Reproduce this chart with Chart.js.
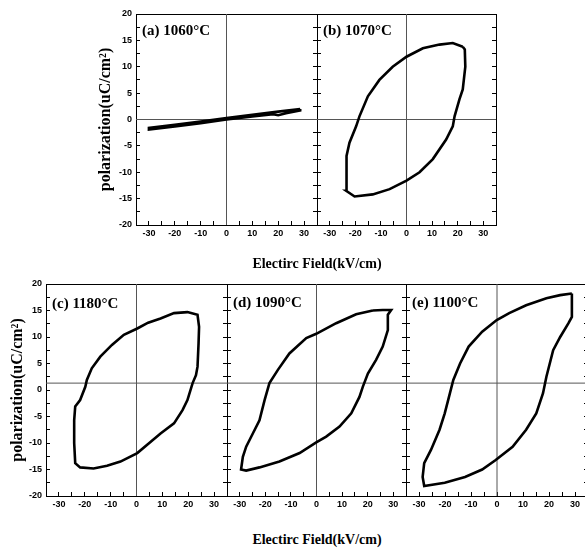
<!DOCTYPE html>
<html>
<head>
<meta charset="utf-8">
<script src="https://cdn.jsdelivr.net/npm/chart.js@4.4.1/dist/chart.umd.min.js"></script>
<style>
  body { margin: 0; background: #fff; width: 585px; height: 548px; position: relative; overflow: hidden; }
  canvas { position: absolute; }
  .xtitle { position: absolute; left: 0; width: 634px; text-align: center; font: bold 14px 'Liberation Serif', serif; color: #000; }
</style>
</head>
<body>
<canvas id="pa"></canvas>
<canvas id="pb"></canvas>
<canvas id="pc"></canvas>
<canvas id="pd"></canvas>
<canvas id="pe"></canvas>
<div class="xtitle" style="top:256px">Electirc Field(kV/cm)</div>
<div class="xtitle" style="top:532px">Electirc Field(kV/cm)</div>
<script>
// tick labels
const xTickLabels = [-30, -20, -10, 0, 10, 20, 30];
const yTickLabels = [-20, -15, -10, -5, 0, 5, 10, 15, 20];

// (a) 1060°C - almost linear, thin loop
const fieldA = [28.5, 20, 10, 0, -10, -20, -30, -30, -20, -10, 0, 10, 18, 20, 23, 28.5, 28.5];
const polA   = [2.0, 1.5, 0.9, 0.3, -0.4, -1.0, -1.6, -1.9, -1.3, -0.7, 0.0, 0.6, 1.0, 0.8, 1.2, 1.7, 2.0];

// (b) 1070°C
const fieldB = [22.0, 22.8, 23.0, 22.0, 20.7, 18.8, 18.1, 15.5, 10.3, 5.1, 0, -6.6, -13.2, -20.3, -23.6,
                -23.6, -23.3, -22.3, -19.7, -18.4, -15.1, -10.6, -5.4, 0, 6.4, 12.9, 18.1, 22.0];
const polB   = [13.8, 13.3, 10.0, 5.7, 3.8, 0.6, -1.3, -3.8, -7.5, -10.0, -11.6, -13.2, -14.2, -14.6, -13.5,
                -10.7, -6.9, -4.4, -1.3, 0.6, 4.4, 7.5, 10.0, 11.9, 13.5, 14.2, 14.5, 13.8];

// (c) 1180°C
const fieldC = [0.3, 4.5, 9.3, 14.5, 19.7, 23.6, 24.2, 24.0, 23.6, 23.0, 21.7, 19.7, 17.8, 14.5, 9.3, 5.4, 0.3,
                -6.2, -11.4, -16.6, -21.8, -23.7, -24.1, -24.1, -23.7, -21.8, -19.8, -19.2, -17.3, -14.0, -9.5, -4.9, 0.3];
const polC   = [11.6, 12.7, 13.5, 14.5, 14.7, 14.2, 11.9, 8.8, 4.4, 2.8, 1.3, -1.9, -3.8, -6.3, -8.2, -9.8, -11.9,
                -13.5, -14.3, -14.8, -14.6, -13.8, -10.0, -5.7, -3.1, -1.9, 0.6, 1.9, 4.1, 6.3, 8.5, 10.4, 11.6];

// (d) 1090°C
const fieldD = [22.0, 25.9, 29.2, 27.9, 27.9, 25.9, 23.3, 20.1, 18.1, 16.8, 13.6, 9.0, 3.8, -0.1, -6.6, -14.5,
                -22.3, -27.5, -29.5, -28.8, -27.5, -24.9, -22.3, -20.3, -18.4, -15.1, -10.6, -4.0, -0.1, 7.7, 15.5, 22.0];
const polD   = [15.0, 15.1, 15.1, 14.2, 11.3, 8.2, 5.7, 3.1, 0.6, -1.3, -4.4, -6.9, -8.8, -9.9, -11.9, -13.5,
                -14.6, -15.2, -15.0, -12.6, -10.7, -8.2, -5.7, -1.9, 1.3, 3.8, 6.9, 9.8, 10.6, 12.6, 14.3, 15.0];

// (e) 1100°C
const fieldE = [28.8, 24.3, 19.0, 11.2, 4.7, -0.1, -5.7, -10.9, -14.2, -16.8, -18.1, -20.1, -22.1, -25.4, -28.0, -28.6,
                -28.0, -20.1, -12.3, -5.7, -0.5, 6.0, 11.2, 15.1, 17.7, 19.0, 21.6, 24.3, 27.5, 28.8, 28.8, 28.8];
const polE   = [18.2, 17.9, 17.3, 16.0, 14.5, 13.2, 11.0, 8.2, 5.0, 1.9, -0.6, -4.4, -7.5, -11.3, -13.8, -16.4,
                -18.1, -17.5, -16.4, -15.0, -13.2, -10.7, -7.5, -4.4, -0.6, 2.5, 7.5, 10.0, 12.6, 13.8, 17.5, 18.2];

const panelLabels = ['(a) 1060°C', '(b) 1070°C', '(c) 1180°C', '(d) 1090°C', '(e) 1100°C'];
const hLineTop = 0;      // horizontal reference line, top row
const hLineBottom = 1.3; // horizontal reference line, bottom row

const tickFont = { family: "'Liberation Sans Narrow', 'Liberation Sans', Arial, sans-serif", weight: 'bold', size: 9 };

const panelLabel = {
  id: 'panelLabel',
  afterDraw(chart, args, opts) {
    const { ctx, chartArea } = chart;
    ctx.save();
    ctx.font = "bold 15px 'Liberation Serif', serif";
    ctx.fillStyle = '#000';
    ctx.textBaseline = 'alphabetic';
    ctx.fillText(opts.text, chartArea.left + 6, chartArea.top + opts.dy);
    ctx.restore();
  }
};

function makePanel(id, box, xs, ys, label, hLine, showY, labelDy, lw, leftSpace) {
  const [L, T, R, B] = box;
  const topSpace = 16, rightSpace = 10, bottomSpace = 22;
  const cv = document.getElementById(id);
  cv.width = R - L + leftSpace + rightSpace;
  cv.height = B - T + topSpace + bottomSpace;
  cv.style.left = (L - leftSpace) + 'px';
  cv.style.top = (T - topSpace) + 'px';

  new Chart(cv, {
    type: 'scatter',
    data: {
      datasets: [
        { data: xs.map((x, i) => ({ x, y: ys[i] })), showLine: true, borderColor: '#000',
          borderWidth: lw, pointRadius: 0, tension: 0, xAxisID: 'x', yAxisID: 'y' },
        { data: [{ x: -35, y: hLine }, { x: 35, y: hLine }], showLine: true, borderColor: '#555',
          borderWidth: 1, pointRadius: 0, xAxisID: 'x', yAxisID: 'y' },
        { data: [{ x: 0, y: -20 }, { x: 0, y: 20 }], showLine: true, borderColor: '#555',
          borderWidth: 1, pointRadius: 0, xAxisID: 'x', yAxisID: 'y' }
      ]
    },
    options: {
      responsive: false,
      animation: false,
      layout: { padding: 0, autoPadding: false },
      plugins: {
        legend: { display: false },
        tooltip: { enabled: false },
        panelLabel: { text: label, dy: labelDy }
      },
      scales: {
        x: {
          type: 'linear', position: 'bottom', min: -35, max: 35,
          afterFit: s => { s.height = bottomSpace; },
          grid: { drawOnChartArea: false, tickLength: -4, color: '#000' },
          border: { display: true, color: '#000', width: 1 },
          ticks: { stepSize: 5, autoSkip: false, maxRotation: 0, padding: 7, color: '#000', font: tickFont,
                   callback: v => xTickLabels.includes(v) ? String(v) : '' }
        },
        x2: {
          type: 'linear', position: 'top', min: -35, max: 35,
          afterFit: s => { s.height = topSpace; },
          grid: { drawOnChartArea: false, drawTicks: false },
          border: { display: true, color: '#000', width: 1 },
          ticks: { display: false }
        },
        y: {
          type: 'linear', position: 'left', min: -20, max: 20,
          afterFit: s => { s.width = leftSpace; },
          grid: { drawOnChartArea: false, tickLength: -4, color: '#000' },
          border: { display: true, color: '#000', width: 1 },
          ticks: { display: showY, stepSize: 2.5, autoSkip: false, padding: 8, color: '#000', font: tickFont,
                   callback: v => yTickLabels.includes(v) ? String(v) : '' },
          title: { display: showY, text: 'polarization(uC/cm²)', color: '#000', padding: { top: 0, bottom: 0 },
                   font: { family: "'Liberation Serif', serif", weight: 'bold', size: 16 } }
        },
        y2: {
          type: 'linear', position: 'right', min: -20, max: 20,
          afterFit: s => { s.width = rightSpace; },
          grid: { drawOnChartArea: false, tickLength: -4, color: '#000' },
          border: { display: true, color: '#000', width: 1 },
          ticks: { display: false, stepSize: 2.5 }
        }
      }
    },
    plugins: [panelLabel]
  });
}

makePanel('pa', [136, 14, 317, 225], fieldA, polA, panelLabels[0], hLineTop, true, 21, 2.6, 40);
makePanel('pb', [317, 14, 496, 225], fieldB, polB, panelLabels[1], hLineTop, false, 21, 2.6, 10);
makePanel('pc', [46, 284, 227, 496], fieldC, polC, panelLabels[2], hLineBottom, true, 24, 2.6, 38);
makePanel('pd', [227, 284, 406, 496], fieldD, polD, panelLabels[3], hLineBottom, false, 23, 2.6, 10);
makePanel('pe', [406, 284, 588, 496], fieldE, polE, panelLabels[4], hLineBottom, false, 23, 2.6, 10);
</script>
</body>
</html>
